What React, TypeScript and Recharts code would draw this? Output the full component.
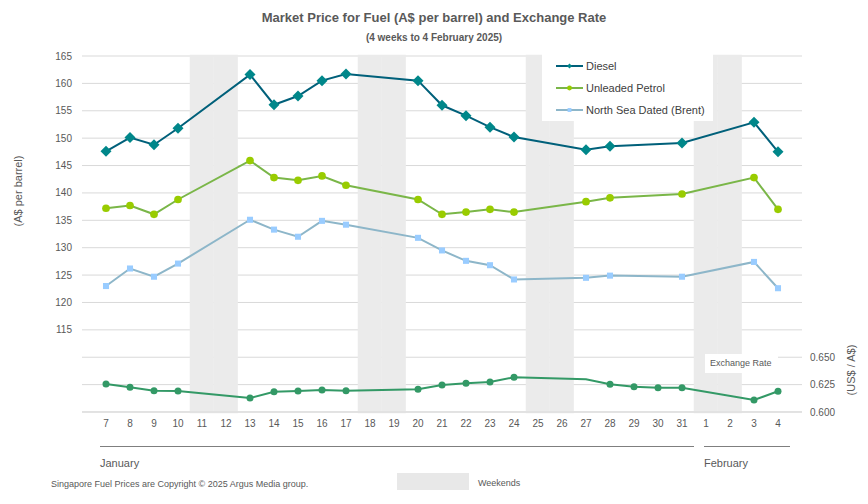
import { ComposedChart, Line, Bar, XAxis, YAxis, CartesianGrid } from 'recharts';

const days = ['7', '8', '9', '10', '11', '12', '13', '14', '15', '16', '17', '18', '19', '20', '21', '22', '23', '24', '25', '26', '27', '28', '29', '30', '31', '1', '2', '3', '4'];
const months = ['January', 'January', 'January', 'January', 'January', 'January', 'January', 'January', 'January', 'January', 'January', 'January', 'January', 'January', 'January', 'January', 'January', 'January', 'January', 'January', 'January', 'January', 'January', 'January', 'January', 'February', 'February', 'February', 'February'];

const diesel = [147.6, 150.1, 148.8, 151.8, null, null, 161.6, 156.1, 157.7, 160.5, 161.7, null, null, 160.5, 156.0, 154.1, 152.0, 150.2, null, null, 147.9, 148.5, null, null, 149.1, null, null, 152.9, 147.5];
const unleaded = [137.2, 137.7, 136.1, 138.8, null, null, 145.9, 142.8, 142.3, 143.1, 141.4, null, null, 138.8, 136.1, 136.5, 137.0, 136.5, null, null, 138.4, 139.1, null, null, 139.8, null, null, 142.8, 137.0];
const brent = [123.0, 126.2, 124.7, 127.1, null, null, 135.1, 133.3, 132.0, 134.9, 134.2, null, null, 131.8, 129.5, 127.6, 126.8, 124.2, null, null, 124.5, 124.9, null, null, 124.7, null, null, 127.4, 122.6];
const exchangeRate = [0.6255, 0.6225, 0.6194, 0.6192, null, null, 0.6128, 0.6185, 0.6192, 0.6201, 0.6194, null, null, 0.6207, 0.6246, 0.6262, 0.6274, 0.6317, null, null, 0.6298, 0.6253, 0.6231, 0.6222, 0.6222, null, null, 0.6109, 0.6189];
// the exchange rate line passes through 27 Jan without a marker
const fxNoMarker = ['27'];

const weekendDays = ['11', '12', '18', '19', '25', '26', '1', '2'];
const priceTicks = [100, 105, 110, 115, 120, 125, 130, 135, 140, 145, 150, 155, 160, 165];
const fxTicks = [0.6, 0.625, 0.65];

const PRICE_MIN = 100;
const PRICE_MAX = 165;

const data = days.map((d, i) => ({
  day: d,
  month: months[i],
  weekend: weekendDays.includes(d) ? PRICE_MAX : null,
  diesel: diesel[i],
  unleaded: unleaded[i],
  brent: brent[i],
  fx: exchangeRate[i],
}));

const FONT = '"Liberation Sans", Arial, sans-serif';
const GREY = '#595959';
const SHADE = '#ebebeb';

const fuelSeries = [
  { key: 'diesel', name: 'Diesel', line: '#00607a', marker: '#00878a', shape: 'diamond' },
  { key: 'unleaded', name: 'Unleaded Petrol', line: '#7ab648', marker: '#99cc00', shape: 'circle' },
  { key: 'brent', name: 'North Sea Dated (Brent)', line: '#8db6c9', marker: '#99ccff', shape: 'square' },
];

const Marker = ({ cx, cy, shape, color, size }: any) => {
  if (shape === 'diamond') {
    return <polygon points={`${cx},${cy - size} ${cx + size},${cy} ${cx},${cy + size} ${cx - size},${cy}`} fill={color} />;
  }
  if (shape === 'square') {
    return <rect x={cx - size * 0.55} y={cy - size * 0.55} width={size * 1.1} height={size * 1.1} fill={color} />;
  }
  return <circle cx={cx} cy={cy} r={size * 0.7} fill={color} />;
};

const makeDot = (shape: string, color: string, size: number, skip: string[] = []) => (props: any) => {
  const { cx, cy, index, payload, value } = props;
  if (cx == null || cy == null || value == null || skip.includes(payload?.day)) return <g key={`dot-${index}`} />;
  return (
    <g key={`dot-${index}`}>
      <Marker cx={cx} cy={cy} shape={shape} color={color} size={size} />
    </g>
  );
};

const BAND = 24;

const DayTick = (props: any) => {
  const { x, y, payload, index } = props;
  const half = BAND / 2;
  const m = months[index];
  const first = index === 0 || months[index - 1] !== m;
  const count = months.filter(v => v === m).length;
  const start = x - half + (index === 0 ? 6 : 10);
  const end = x - half + count * BAND;
  return (
    <g>
      <text x={x} y={y} dy={8} textAnchor="middle" fontSize={10} fill={GREY} fontFamily={FONT}>
        {payload.value}
      </text>
      {first && (
        <g>
          <path d={`M${start},${y + 27.5}H${end}`} stroke="#7f7f7f" strokeWidth={1.2} fill="none" />
          <text x={start} y={y + 48} fontSize={11} fill={GREY} fontFamily={FONT}>
            {m}
          </text>
        </g>
      )}
    </g>
  );
};

const App = () => {
  return (
    <div style={{ position: 'absolute', left: 0, top: 0, width: 868, height: 504, background: '#fff', fontFamily: FONT }}>
      <ComposedChart width={868} height={504} data={data} margin={{ top: 56, right: 6, left: 22, bottom: 32 }} barCategoryGap={0} barGap={0}>
        <CartesianGrid yAxisId="left" vertical={false} stroke="#d9d9d9" />
        <XAxis
          dataKey="day"
          scale="point"
          interval={0}
          padding={{ left: 24, right: 24 }}
          height={60}
          tickLine={false}
          tickSize={0}
          tickMargin={7}
          stroke="#d9d9d9"
          tick={<DayTick />}
        />
        <YAxis
          yAxisId="left"
          domain={[PRICE_MIN, PRICE_MAX]}
          ticks={priceTicks}
          interval={0}
          width={60}
          axisLine={false}
          tickLine={false}
          tickSize={0}
          tickMargin={10}
          tickFormatter={(v: number) => (v >= 115 ? String(v) : '')}
          tick={{ fontSize: 10, fill: GREY, fontFamily: FONT }}
        />
        <YAxis
          yAxisId="right"
          orientation="right"
          domain={[0.6, 0.925]}
          ticks={fxTicks}
          interval={0}
          width={60}
          axisLine={false}
          tickLine={false}
          tickSize={0}
          tickMargin={8}
          allowDataOverflow
          tickFormatter={(v: number) => v.toFixed(3)}
          tick={{ fontSize: 10, fill: GREY, fontFamily: FONT, textAnchor: 'start' }}
        />
        <Bar yAxisId="left" dataKey="weekend" name="Weekends" fill={SHADE} stroke={SHADE} strokeWidth={2.5} barSize={BAND} isAnimationActive={false} />
        {fuelSeries.map(s => (
          <Line
            key={s.key}
            yAxisId="left"
            type="linear"
            dataKey={s.key}
            name={s.name}
            stroke={s.line}
            strokeWidth={2}
            connectNulls
            dot={makeDot(s.shape, s.marker, 5.5)}
            activeDot={false}
            isAnimationActive={false}
          />
        ))}
        <Line
          yAxisId="right"
          type="linear"
          dataKey="fx"
          name="Exchange Rate"
          stroke="#339966"
          strokeWidth={2}
          connectNulls
          dot={makeDot('circle', '#339966', 5, fxNoMarker)}
          activeDot={false}
          isAnimationActive={false}
        />
      </ComposedChart>

      {/* titles and notes */}
      <div style={{ position: 'absolute', left: 0, top: 10, width: 868, textAlign: 'center', fontSize: 13, fontWeight: 'bold', color: GREY }}>
        Market Price for Fuel (A$ per barrel) and Exchange Rate
      </div>
      <div style={{ position: 'absolute', left: 0, top: 32, width: 868, textAlign: 'center', fontSize: 10, fontWeight: 'bold', color: GREY }}>
        (4 weeks to 4 February 2025)
      </div>
      <svg width={868} height={504} style={{ position: 'absolute', left: 0, top: 0, pointerEvents: 'none' }}>
        <text x={0} y={0} transform="translate(22,191) rotate(-90)" textAnchor="middle" fontSize={11} fill={GREY} fontFamily={FONT}>
          (A$ per barrel)
        </text>
        <text x={0} y={0} transform="translate(855,370) rotate(-90)" textAnchor="middle" fontSize={11} fill={GREY} fontFamily={FONT}>
          (US$ / A$)
        </text>
      </svg>

      {/* legend */}
      <div style={{ position: 'absolute', left: 542, top: 52, width: 171, height: 69, background: '#fff' }}>
        {fuelSeries.map((s, i) => (
          <div key={s.key} style={{ position: 'absolute', left: 14, top: 7 + i * 22, height: 14, display: 'flex', alignItems: 'center' }}>
            <svg width={28} height={10}>
              <line x1={0} x2={27} y1={5} y2={5} stroke={s.line} strokeWidth={2} />
              <Marker cx={13.5} cy={5} shape={s.shape} color={s.marker} size={s.shape === 'diamond' ? 2.5 : 3.5} />
            </svg>
            <span style={{ fontSize: 11, color: '#404040', marginLeft: 2 }}>{s.name}</span>
          </div>
        ))}
      </div>

      <div style={{ position: 'absolute', left: 705, top: 354, width: 73, height: 19, background: '#fff', fontSize: 9, color: GREY, lineHeight: '19px', paddingLeft: 5, boxSizing: 'border-box' }}>
        Exchange Rate
      </div>

      <div style={{ position: 'absolute', left: 51, top: 479, fontSize: 9, color: GREY }}>
        Singapore Fuel Prices are Copyright © 2025 Argus Media group.
      </div>
      <div style={{ position: 'absolute', left: 397, top: 473, width: 72, height: 17, background: '#e8e8e8' }} />
      <div style={{ position: 'absolute', left: 478, top: 478, fontSize: 9, color: GREY }}>Weekends</div>
    </div>
  );
};

export default App;
